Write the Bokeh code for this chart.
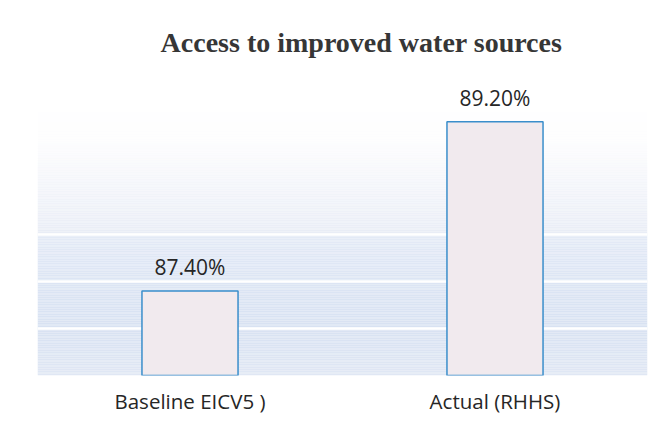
import numpy as np
from bokeh.plotting import figure
from bokeh.models import FactorRange, Range1d, Label, ColumnDataSource
from bokeh.core.properties import value
from bokeh.embed import file_html
from bokeh.resources import INLINE

# ---- data ----
categories = ["Baseline EICV5 )", "Actual (RHHS)"]
values = [87.40, 89.20]
value_labels = ["87.40%", "89.20%"]
axis_min = 86.5
grid_ticks = [87.0, 87.5, 88.0]
title_text = "Access to improved water sources"

# ---- background gradient (decoration) ----
grad_stops = [86.5, 87.0, 87.5, 88.0, 88.02, 88.5, 89.0, 89.4]
grad_rgb = [(0xe0, 0xe7, 0xf4), (0xd8, 0xe2, 0xf2), (0xdc, 0xe5, 0xf4),
            (0xe4, 0xea, 0xf6), (0xe9, 0xed, 0xf6), (0xf3, 0xf5, 0xfa),
            (0xfd, 0xfd, 0xfe), (0xff, 0xff, 0xff)]

px_per_unit = 94.0
frame_h = 367
y_end = axis_min + frame_h / px_per_unit

p = figure(width=655, height=424,
           x_range=FactorRange(factors=categories),
           y_range=Range1d(axis_min, y_end),
           output_backend="svg", toolbar_location=None,
           min_border_left=37, min_border_right=8,
           min_border_top=8, min_border_bottom=49)
p.outline_line_color = None
p.background_fill_color = "white"
p.border_fill_color = "white"
p.xgrid.visible = False
p.ygrid.visible = False
p.yaxis.visible = False

edges = np.linspace(grad_stops[0], grad_stops[-1], 160)
y0s = edges[:-1]
y1s = edges[1:]
mids = (y0s + y1s) / 2
cols = []
for m in mids:
    r = np.interp(m, grad_stops, [c[0] for c in grad_rgb])
    g = np.interp(m, grad_stops, [c[1] for c in grad_rgb])
    b = np.interp(m, grad_stops, [c[2] for c in grad_rgb])
    cols.append("#%02x%02x%02x" % (int(round(r)), int(round(g)), int(round(b))))
p.hstrip(y0=y0s, y1=y1s, fill_color=cols, line_color=None)

# white gridlines
p.hspan(y=grid_ticks, line_color="white", line_width=2.5)

# bars
src = ColumnDataSource(dict(cat=categories, val=values, lab=value_labels))
p.vbar(x="cat", top="val", bottom=axis_min - 0.1, width=0.315, source=src,
       fill_color="#f1eaee", line_color="#3a8ecb", line_width=1.5)

p.text(x="cat", y="val", text="lab", source=src, y_offset=-24,
       text_align="center", text_baseline="alphabetic",
       text_font=value("Open Sans"), text_font_size="21px", text_color="#262626")

# title
p.add_layout(Label(x=324, y=333, x_units="screen", y_units="screen",
                   text=title_text, text_align="center", text_baseline="alphabetic",
                   text_font="Liberation Serif", text_font_style="bold",
                   text_font_size="28px", text_color="#363636"))

# x axis
ax = p.xaxis[0]
ax.axis_line_color = None
ax.major_tick_line_color = None
ax.minor_tick_line_color = None
ax.major_tick_out = 0
ax.major_tick_in = 0
ax.major_label_standoff = 11
ax.major_label_text_font = "Open Sans"
ax.major_label_text_font_size = "20.5px"
ax.major_label_text_color = "#262626"

open("out.html", "w").write(file_html(p, INLINE))
